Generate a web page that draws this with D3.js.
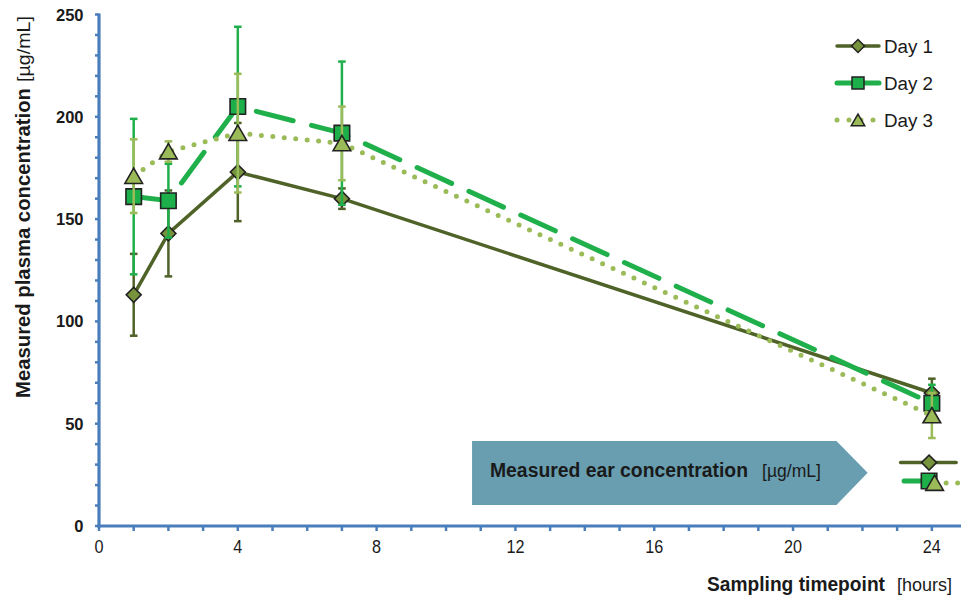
<!DOCTYPE html>
<html><head><meta charset="utf-8">
<script src="https://cdn.jsdelivr.net/npm/d3@7"></script>
<style>body{margin:0;background:#fff} svg{display:block}</style>
</head><body><svg id="c" width="961" height="598"></svg>
<script>
const hours = [1, 2, 4, 7, 24];
const day1 = [113, 143, 173, 160, 65];
const day1Err = [20, 21, 24, 5, 7];
const day2 = [161, 159, 205, 192, 60];
const day2Err = [38, 18, 39, 35, 9];
const day3 = [171, 183, 192, 187, 54];
const day3Err = [18, 5, 29, 18, 11];
const seriesNames = ["Day 1", "Day 2", "Day 3"];
const earHour = [23.92, 23.92, 24.08];
const earValue = [31, 22, 21];
const earLineFrom = [23.1, 23.2, 24.08];
const earLineTo = [24.7, 23.92, 24.9];
const xTicks = [0, 4, 8, 12, 16, 20, 24];
const yTicks = [0, 50, 100, 150, 200, 250];

const svg = d3.select("#c");
const x = d3.scaleLinear([0, 24.84], [99, 961]);
const y = d3.scaleLinear([0, 250], [526, 14.5]);
const AX = "#4A7EBB";
const FONT = "Liberation Sans, Arial, sans-serif";
const TXT = "#1a1a1a";

const sq = d3.symbolSquare;
const styles = [
  {line: "#4F6228", fill: "#77933C", width: 3.5, dash: null, shape: sq, rot: 45, size: 112, lsize: 85, err: "#4F6228"},
  {line: "#1FB04B", fill: "#1DAF4A", width: 5, dash: "38 19", shape: sq, rot: 0, size: 240, lsize: 144, err: "#1FB04B"},
  {line: "#9BBB59", fill: "#9BBB59", width: 5, dash: "0 11.5", shape: d3.symbolTriangle, rot: 0, size: 135, lsize: 78, err: "#9BBB59"}
];
const vals = [day1, day2, day3];
const errs = [day1Err, day2Err, day3Err];

function fitText(sel, attrs, str, len) {
  const t = sel.append("text");
  Object.entries(attrs).forEach(([k, v]) => t.attr(k, v));
  t.text(str);
  if (len) t.attr("textLength", len).attr("lengthAdjust", "spacingAndGlyphs");
  return t;
}

// annotation arrow box (in data units)
const box = [[10.75, 41.5], [21.25, 41.5], [22.15, 26], [21.25, 10.3], [10.75, 10.3]];
svg.append("path")
  .attr("d", d3.line().x(d => x(d[0])).y(d => y(d[1]))(box) + "Z")
  .attr("fill", "#689EB0");
fitText(svg, {x: 490, y: 477, "font-family": FONT, "font-size": 19.5, "font-weight": "bold", fill: TXT}, "Measured ear concentration", 258);
fitText(svg, {x: 762, y: 477, "font-family": FONT, "font-size": 17.5, fill: TXT}, "[µg/mL]", 59);

// axes
const gY = svg.append("g");
gY.append("line").attr("x1", x(0)).attr("x2", x(0)).attr("y1", y(250) - 1).attr("y2", y(0) + 1.5)
  .attr("stroke", AX).attr("stroke-width", 3.2);
gY.selectAll("line.t").data(d3.range(0, 251, 10)).join("line").attr("class", "t")
  .attr("x1", x(0) - 4).attr("x2", x(0)).attr("y1", d => y(d)).attr("y2", d => y(d))
  .attr("stroke", AX).attr("stroke-width", 2.5);
gY.selectAll("text").data(yTicks).join("text")
  .attr("x", 83.5).attr("y", d => y(d) + 6).attr("text-anchor", "end")
  .attr("font-family", FONT).attr("font-weight", "bold").attr("font-size", 16.5)
  .attr("fill", TXT).text(d => d);

const gX = svg.append("g");
gX.append("line").attr("x1", x(0) - 1.6).attr("x2", 961).attr("y1", y(0)).attr("y2", y(0))
  .attr("stroke", AX).attr("stroke-width", 3.2);
gX.selectAll("line.t").data(d3.range(0, 25, 1)).join("line").attr("class", "t")
  .attr("x1", d => x(d)).attr("x2", d => x(d)).attr("y1", y(0)).attr("y2", y(0) + 5)
  .attr("stroke", AX).attr("stroke-width", 2.5);
gX.selectAll("text").data(xTicks).join("text")
  .attr("transform", d => `translate(${x(d)},553) scale(0.9,1)`).attr("text-anchor", "middle")
  .attr("font-family", FONT).attr("font-size", 18)
  .attr("fill", TXT).text(d => d);

// axis titles
fitText(svg, {x: 707, y: 591, "font-family": FONT, "font-size": 20, "font-weight": "bold", fill: TXT}, "Sampling timepoint", 178);
fitText(svg, {x: 897, y: 591, "font-family": FONT, "font-size": 18, fill: TXT}, "[hours]", 55);
const gT = svg.append("g").attr("transform", "translate(30,398) rotate(-90)");
fitText(gT, {x: 0, y: 0, "font-family": FONT, "font-size": 20.3, "font-weight": "bold", fill: TXT}, "Measured plasma concentration", 310);
fitText(gT, {x: 316, y: 0, "font-family": FONT, "font-size": 17.5, fill: TXT}, "[µg/mL]", 66);

// series
const lineGen = d3.line().x(d => x(d[0])).y(d => y(d[1]));
vals.forEach((v, i) => {
  const s = styles[i];
  const g = svg.append("g");
  const pts = hours.map((h, j) => [h, v[j]]);
  // error bars
  hours.forEach((h, j) => {
    const lo = v[j] - errs[i][j], hi = v[j] + errs[i][j];
    g.append("line").attr("x1", x(h)).attr("x2", x(h)).attr("y1", y(lo)).attr("y2", y(hi))
      .attr("stroke", s.err).attr("stroke-width", 2.5);
    [lo, hi].forEach(e => g.append("line").attr("x1", x(h) - 3.8).attr("x2", x(h) + 3.8)
      .attr("y1", y(e)).attr("y2", y(e)).attr("stroke", s.err).attr("stroke-width", 2.5));
  });
  g.append("path").attr("d", lineGen(pts)).attr("fill", "none").attr("stroke", s.line)
    .attr("stroke-width", s.width).attr("stroke-dasharray", s.dash).attr("stroke-linecap", "round");
  // ear line
  g.append("line").attr("x1", x(earLineFrom[i])).attr("x2", x(earLineTo[i]))
    .attr("y1", y(earValue[i])).attr("y2", y(earValue[i]))
    .attr("stroke", s.line).attr("stroke-width", s.width).attr("stroke-dasharray", s.dash).attr("stroke-linecap", "round");
  const sym = d3.symbol().type(s.shape).size(s.size);
  const off = s.shape === d3.symbolTriangle ? 2.2 : 0;
  g.selectAll("path.m").data(pts.concat([[earHour[i], earValue[i]]])).join("path").attr("class", "m")
    .attr("d", sym).attr("transform", d => `translate(${x(d[0])},${y(d[1]) + off}) rotate(${s.rot})`)
    .attr("fill", s.fill).attr("stroke", "#222").attr("stroke-width", 1.6);
  // legend
  const ly = 46 + i * 37;
  g.append("line").attr("x1", 837).attr("x2", 879).attr("y1", ly).attr("y2", ly)
    .attr("stroke", s.line).attr("stroke-width", s.width).attr("stroke-linecap", "round")
    .attr("stroke-dasharray", i === 2 ? "0 12" : null);
  g.append("path").attr("d", d3.symbol().type(s.shape).size(s.lsize))
    .attr("transform", `translate(858,${ly + off * 0.8}) rotate(${s.rot})`)
    .attr("fill", s.fill).attr("stroke", "#222").attr("stroke-width", 1.5);
  g.append("text").attr("x", 884).attr("y", ly + 6.5).attr("font-family", FONT)
    .attr("font-size", 18.8).attr("fill", TXT).text(seriesNames[i]);
});
</script></body></html>
